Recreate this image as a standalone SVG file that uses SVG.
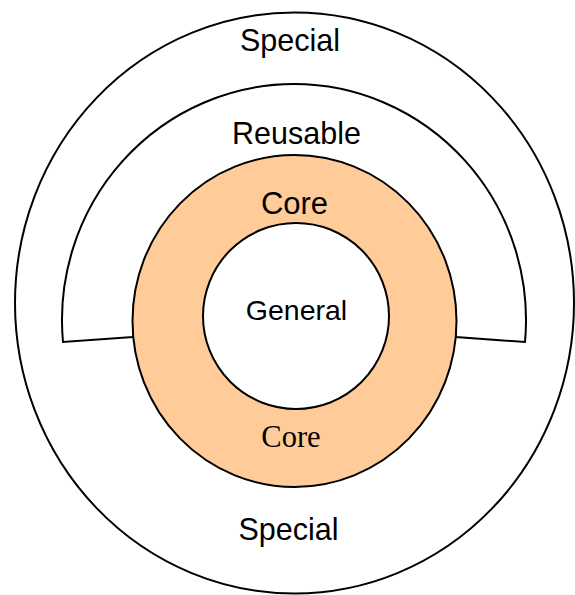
<svg xmlns="http://www.w3.org/2000/svg" width="575" height="595" viewBox="0 0 575 595">
<style>
.shape{stroke:#000;stroke-width:2;fill:#fff}
.core{fill:#FFCC99}
.sans{font-family:"Liberation Sans",Arial,sans-serif;fill:#000;text-anchor:middle}
.serif{font-family:"Liberation Serif","Times New Roman",serif;fill:#000;text-anchor:middle}
</style>
<rect width="575" height="595" fill="#fff"/>
<g id="special">
<ellipse class="shape" cx="294.5" cy="303" rx="279.5" ry="290.5"/>
<text class="sans" x="290" y="51" font-size="30.5">Special</text>
<text class="sans" x="288.5" y="540" font-size="30.5">Special</text>
</g>
<g id="reusable">
<path class="shape" d="M133 337 L63 342 A232 236 0 1 1 525 342 L456 337 A162 166 0 0 0 133 337 Z"/>
<text class="sans" x="296.5" y="144" font-size="30.5">Reusable</text>
</g>
<g id="core">
<ellipse class="shape core" cx="294.5" cy="321" rx="162" ry="166"/>
<text class="sans" x="294.5" y="214" font-size="31">Core</text>
<text class="serif" x="291" y="447" font-size="30.5">Core</text>
</g>
<g id="general">
<circle class="shape" cx="296" cy="316" r="93"/>
<text class="sans" x="296.5" y="320" font-size="28.5">General</text>
</g>
<g id="connectors"></g>
</svg>
